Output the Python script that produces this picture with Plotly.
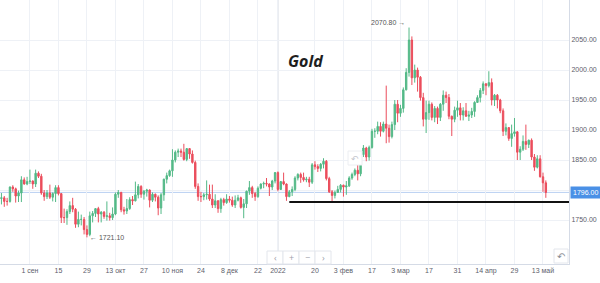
import pandas as pd
import plotly.graph_objects as go

# ---------------- data (XAUUSD daily) ----------------
open_aug = [1786, 1787, 1781, 1781, 1805, 1802, 1790, 1795, 1817, 1810]
high_aug = [1795, 1790, 1787, 1806, 1808, 1804, 1799, 1823, 1821, 1822]
low_aug = [1776, 1772, 1774, 1779, 1797, 1779, 1780, 1780, 1809, 1808]
close_aug = [1787, 1781, 1781, 1805, 1802, 1790, 1795, 1817, 1810, 1814]

open_sep = [1814, 1815, 1810, 1828, 1823, 1795, 1789, 1795, 1788, 1794, 1804, 1794, 1754, 1754, 1764, 1774, 1768, 1743, 1751, 1751, 1734, 1726]
high_sep = [1834, 1816, 1834, 1831, 1827, 1800, 1800, 1809, 1796, 1808, 1808, 1795, 1769, 1768, 1781, 1787, 1770, 1764, 1759, 1755, 1741, 1764]
low_sep = [1810, 1802, 1805, 1820, 1792, 1782, 1785, 1785, 1781, 1780, 1791, 1745, 1745, 1742, 1760, 1763, 1737, 1738, 1741, 1726, 1721.1, 1723]
close_sep = [1815, 1810, 1828, 1823, 1795, 1789, 1795, 1788, 1794, 1804, 1794, 1754, 1754, 1764, 1774, 1768, 1743, 1751, 1751, 1734, 1726, 1757]

open_oct = [1757, 1761, 1769, 1760, 1763, 1756, 1757, 1754, 1760, 1793, 1796, 1767, 1765, 1769, 1784, 1782, 1792, 1806, 1793, 1798, 1800]
high_oct = [1765, 1770, 1772, 1765, 1765, 1781, 1762, 1771, 1796, 1800, 1797, 1772, 1785, 1788, 1790, 1814, 1810, 1808, 1800, 1802, 1801]
low_oct = [1746, 1755, 1746, 1746, 1752, 1749, 1749, 1750, 1758, 1787, 1763, 1759, 1760, 1767, 1775, 1781, 1786, 1787, 1784, 1789, 1771]
close_oct = [1761, 1769, 1760, 1763, 1756, 1757, 1754, 1760, 1793, 1796, 1767, 1765, 1769, 1784, 1782, 1792, 1806, 1793, 1798, 1800, 1783]

open_nov = [1783, 1793, 1788, 1770, 1792, 1818, 1824, 1832, 1850, 1863, 1865, 1863, 1851, 1869, 1860, 1846, 1806, 1789, 1789, 1792, 1793, 1785]
high_nov = [1796, 1794, 1791, 1795, 1819, 1829, 1834, 1868, 1866, 1869, 1869, 1877, 1870, 1870, 1866, 1849, 1811, 1797, 1795, 1816, 1809, 1809]
low_nov = [1780, 1781, 1758, 1760, 1782, 1811, 1822, 1822, 1846, 1855, 1855, 1849, 1848, 1852, 1844, 1802, 1782, 1780, 1783, 1784, 1782, 1770]
close_nov = [1793, 1788, 1770, 1792, 1818, 1824, 1832, 1850, 1863, 1865, 1863, 1851, 1869, 1860, 1846, 1806, 1789, 1789, 1792, 1793, 1785, 1775]

open_dec = [1775, 1782, 1769, 1784, 1779, 1785, 1783, 1775, 1783, 1787, 1771, 1777, 1798, 1804, 1794, 1789, 1803, 1810, 1811, 1810, 1805, 1815]
high_dec = [1793, 1783, 1787, 1787, 1793, 1790, 1789, 1791, 1792, 1789, 1785, 1799, 1815, 1807, 1797, 1806, 1811, 1814, 1820, 1811, 1817, 1830]
low_dec = [1770, 1762, 1762, 1774, 1777, 1779, 1772, 1770, 1781, 1769, 1753, 1770, 1792, 1787, 1782, 1787, 1801, 1803, 1806, 1790, 1800, 1811]
close_dec = [1782, 1769, 1784, 1779, 1785, 1783, 1775, 1783, 1787, 1771, 1777, 1798, 1804, 1794, 1789, 1803, 1810, 1811, 1810, 1805, 1815, 1829]

open_jan = [1829, 1801, 1814, 1810, 1789, 1797, 1801, 1820, 1826, 1821, 1817, 1818, 1813, 1842, 1839, 1836, 1843, 1848, 1819, 1797, 1791]
high_jan = [1831, 1815, 1829, 1811, 1800, 1806, 1823, 1828, 1829, 1829, 1822, 1822, 1845, 1848, 1843, 1845, 1853, 1850, 1822, 1800, 1799]
low_jan = [1798, 1800, 1808, 1782, 1788, 1790, 1798, 1816, 1812, 1814, 1813, 1805, 1810, 1834, 1830, 1831, 1836, 1816, 1795, 1780, 1786]
close_jan = [1801, 1814, 1810, 1789, 1797, 1801, 1820, 1826, 1821, 1817, 1818, 1813, 1842, 1839, 1836, 1843, 1848, 1819, 1797, 1791, 1796]

open_feb = [1796, 1801, 1808, 1805, 1807, 1820, 1826, 1833, 1827, 1859, 1870, 1855, 1871, 1898, 1898, 1906, 1898, 1910, 1903, 1889]
high_feb = [1807, 1810, 1809, 1815, 1823, 1829, 1836, 1842, 1865, 1875, 1872, 1874, 1902, 1903, 1914, 1913, 1914, 1974, 1909, 1914]
low_feb = [1795, 1796, 1789, 1792, 1805, 1817, 1823, 1816, 1823, 1855, 1848, 1849, 1869, 1887, 1893, 1889, 1896, 1878, 1879, 1886]
close_feb = [1801, 1808, 1805, 1807, 1820, 1826, 1833, 1827, 1859, 1870, 1855, 1871, 1898, 1898, 1906, 1898, 1910, 1903, 1889, 1909]

open_mar = [1909, 1943, 1928, 1936, 1967, 1996, 2050, 1987, 2000, 1988, 1954, 1918, 1929, 1943, 1921, 1936, 1921, 1943, 1958, 1954, 1923, 1918, 1933]
high_mar = [1950, 1950, 1942, 1971, 2003, 2070.8, 2056, 2009, 2004, 1990, 1962, 1949, 1949, 1946, 1940, 1939, 1945, 1966, 1964, 1960, 1924, 1939, 1949]
low_mar = [1900, 1913, 1922, 1929, 1966, 1989, 1975, 1979, 1964, 1949, 1906, 1895, 1917, 1916, 1913, 1910, 1915, 1932, 1945, 1918, 1890, 1913, 1922]
close_mar = [1943, 1928, 1936, 1967, 1996, 2050, 1987, 2000, 1988, 1954, 1918, 1929, 1943, 1921, 1936, 1921, 1943, 1958, 1954, 1923, 1918, 1933, 1937]

open_apr = [1937, 1925, 1932, 1923, 1925, 1931, 1946, 1954, 1966, 1977, 1974, 1979, 1950, 1958, 1950, 1932, 1898, 1904, 1886, 1894]
high_apr = [1945, 1938, 1945, 1932, 1937, 1948, 1958, 1970, 1981, 1978, 1998, 1986, 1960, 1960, 1952, 1936, 1911, 1905, 1909, 1920]
low_apr = [1916, 1916, 1922, 1915, 1920, 1922, 1945, 1946, 1960, 1958, 1971, 1941, 1940, 1936, 1928, 1890, 1891, 1882, 1872, 1889]
close_apr = [1925, 1932, 1923, 1925, 1931, 1946, 1954, 1966, 1977, 1974, 1979, 1950, 1958, 1950, 1932, 1898, 1904, 1886, 1894, 1897]

open_may = [1897, 1863, 1868, 1881, 1876, 1883, 1855, 1838, 1852, 1822, 1812]
high_may = [1898, 1873, 1891, 1909, 1884, 1886, 1860, 1858, 1858, 1829, 1816]
low_may = [1850, 1850, 1865, 1867, 1870, 1850, 1832, 1836, 1821, 1797, 1787]
close_may = [1863, 1868, 1881, 1876, 1883, 1855, 1838, 1852, 1822, 1812, 1796]

holidays = ["2021-12-24", "2022-04-15"]
first_day, last_day = "2021-08-18", "2022-05-16"

tick_dates = ["2021-09-01", "2021-09-15", "2021-09-29", "2021-10-13", "2021-10-27",
              "2021-11-10", "2021-11-24", "2021-12-08", "2021-12-22", "2022-01-03",
              "2022-01-20", "2022-02-03", "2022-02-17", "2022-03-03", "2022-03-17",
              "2022-03-31", "2022-04-14", "2022-04-29", "2022-05-13"]
tick_labels = ["1 сен", "15", "29", "13 окт", "27", "10 ноя", "24", "8 дек", "22", "2022",
               "20", "3 фев", "17", "3 мар", "17", "31", "14 апр", "29", "13 май"]

y_ticks = [1750, 1800, 1850, 1900, 1950, 2000, 2050]
y_labels = ["1750.00", "", "1850.00", "1900.00", "1950.00", "2000.00", "2050.00"]

last_price = 1796.00
support_level = 1780
support_start = "2022-01-07"
max_date, max_value = "2022-03-08", 2070.80
min_date, min_value = "2021-09-29", 1721.10
title_text = "Gold"

# ---------------- build ----------------
opens = open_aug + open_sep + open_oct + open_nov + open_dec + open_jan + open_feb + open_mar + open_apr + open_may
highs = high_aug + high_sep + high_oct + high_nov + high_dec + high_jan + high_feb + high_mar + high_apr + high_may
lows = low_aug + low_sep + low_oct + low_nov + low_dec + low_jan + low_feb + low_mar + low_apr + low_may
closes = close_aug + close_sep + close_oct + close_nov + close_dec + close_jan + close_feb + close_mar + close_apr + close_may

days = pd.bdate_range(first_day, last_day)
days = days[~days.isin(pd.to_datetime(holidays))]
assert len(days) == len(closes), (len(days), len(closes))

UP, DOWN = "#53b987", "#eb4d5c"

fig = go.Figure(go.Candlestick(
    x=days, open=opens, high=highs, low=lows, close=closes,
    increasing=dict(line=dict(color=UP, width=1), fillcolor=UP),
    decreasing=dict(line=dict(color=DOWN, width=1), fillcolor=DOWN),
    whiskerwidth=0, showlegend=False, hoverinfo="skip",
))

x_start = "2021-08-17 12:00"
x_end = "2022-05-26 03:00"
y_lo, y_hi = 1676.7, 2116.7

grid = "#eef1f6"
axis_line = "#d5dbe6"
tick_font = dict(family="Liberation Sans, Arial, sans-serif", size=7, color="#5d606b")

fig.update_layout(
    width=600, height=283,
    margin=dict(l=0, r=31, t=0, b=19),
    paper_bgcolor="white", plot_bgcolor="white",
    xaxis=dict(
        type="date", range=[x_start, x_end],
        rangebreaks=[dict(bounds=["sat", "mon"]), dict(values=holidays)],
        rangeslider=dict(visible=False),
        tickmode="array", tickvals=tick_dates, ticktext=tick_labels,
        showgrid=True, gridcolor=grid, gridwidth=1,
        showline=True, linecolor=axis_line, linewidth=1,
        ticks="", tickfont=tick_font, zeroline=False, fixedrange=True,
    ),
    yaxis=dict(
        side="right", range=[y_lo, y_hi],
        tickmode="array", tickvals=y_ticks, ticktext=y_labels,
        showgrid=True, gridcolor=grid, gridwidth=1,
        showline=True, linecolor=axis_line, linewidth=1,
        ticks="", tickfont=tick_font, zeroline=False, fixedrange=True,
    ),
)

shapes = []
# year separator
shapes.append(dict(type="line", xref="x", yref="paper", x0="2022-01-03", x1="2022-01-03",
                   y0=0, y1=1, line=dict(color="#cfd4dc", width=1), layer="below"))
# last price line
shapes.append(dict(type="line", xref="paper", yref="y", x0=0, x1=1, y0=last_price, y1=last_price,
                   line=dict(color="#b9d0f2", width=1), layer="below"))
# support line
shapes.append(dict(type="line", xref="x", yref="y", x0=support_start, x1=x_end,
                   y0=support_level, y1=support_level, line=dict(color="#111111", width=2)))

# navigation buttons (UI decoration), in pixel-derived paper coords
PW, PH = 569.0, 264.0
def box(x0, y0, x1, y1, color="#e3e6ec"):
    return dict(type="rect", xref="paper", yref="paper",
                x0=x0 / PW, x1=x1 / PW, y0=(PH - y1) / PH, y1=(PH - y0) / PH,
                line=dict(color=color, width=1), fillcolor="white")

nav = ["‹", "+", "−", "›"]
for i, g in enumerate(nav):
    x0 = 267 + i * 16
    shapes.append(box(x0, 251, x0 + 16, 264))
shapes.append(box(554, 249, 568, 263))
shapes.append(box(348, 151, 362, 165, color="#eceef2"))
fig.update_layout(shapes=shapes)

ann = []
ann.append(dict(text=f"<b><i>{title_text}</i></b>", xref="paper", yref="paper",
                x=305 / PW, y=(PH - 61) / PH, xanchor="center", yanchor="middle", showarrow=False,
                font=dict(family="Open Sans, Arial, sans-serif", size=16, color="#1e1e1e")))
ann.append(dict(text=f"{max_value:.2f} →", xref="x", yref="y", x=max_date, y=max_value,
                xanchor="right", yanchor="middle", xshift=-2, yshift=5, showarrow=False,
                font=dict(family="Liberation Sans, Arial, sans-serif", size=7, color="#555")))
ann.append(dict(text=f"← {min_value:.2f}", xref="x", yref="y", x=min_date, y=min_value,
                xanchor="left", yanchor="middle", xshift=1, showarrow=False,
                font=dict(family="Liberation Sans, Arial, sans-serif", size=7, color="#555")))
ann.append(dict(text=f"{last_price:.2f}", xref="paper", yref="y", x=1, y=last_price,
                xanchor="left", yanchor="middle", xshift=1, showarrow=False,
                bgcolor="#4a90e6", borderpad=2,
                font=dict(family="Liberation Sans, Arial, sans-serif", size=7, color="white")))
for i, g in enumerate(nav):
    xc = 267 + i * 16 + 8
    ann.append(dict(text=g, xref="paper", yref="paper", x=xc / PW, y=(PH - 257.5) / PH,
                    xanchor="center", yanchor="middle",
                    showarrow=False, font=dict(size=9, color="#9ea1aa")))
ann.append(dict(text="↶", xref="paper", yref="paper", x=561 / PW, y=(PH - 256) / PH,
                xanchor="center", yanchor="middle",
                showarrow=False, font=dict(size=10, color="#8a8d96")))
ann.append(dict(text="↶", xref="paper", yref="paper", x=355 / PW, y=(PH - 158) / PH,
                xanchor="center", yanchor="middle",
                showarrow=False, font=dict(size=9, color="#c4c7ce")))
fig.update_layout(annotations=ann)

fig.write_html("out.html", config=dict(displayModeBar=False))
